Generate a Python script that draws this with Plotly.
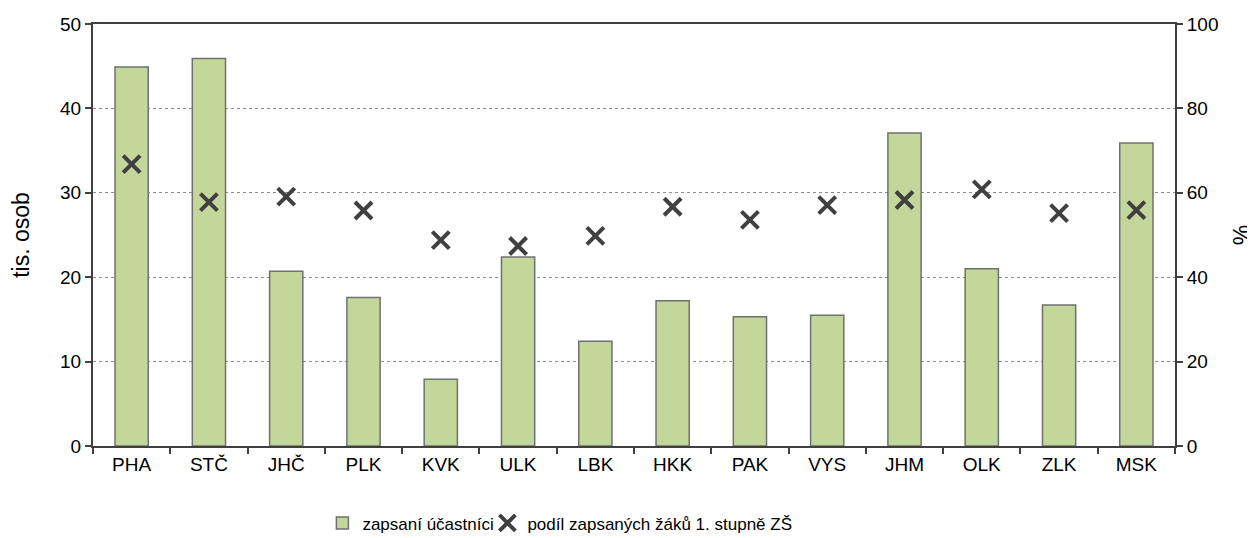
import plotly.graph_objects as go

regions = ["PHA", "STČ", "JHČ", "PLK", "KVK", "ULK", "LBK", "HKK", "PAK", "VYS", "JHM", "OLK", "ZLK", "MSK"]
enrolled = [44.9, 45.9, 20.7, 17.6, 7.9, 22.4, 12.4, 17.2, 15.3, 15.5, 37.1, 21.0, 16.7, 35.9]
share = [66.8, 57.8, 59.1, 55.8, 48.8, 47.4, 49.8, 56.7, 53.6, 57.1, 58.3, 60.8, 55.2, 55.9]

FONT = "Liberation Sans, Arial, sans-serif"
AX = "#404040"

fig = go.Figure()
fig.add_trace(go.Bar(
    x=regions, y=enrolled, name="zapsaní účastníci",
    marker=dict(color="#c4d79b", line=dict(color="#707070", width=1.5)),
    yaxis="y", legendwidth=120,
))
fig.add_trace(go.Scatter(
    x=regions, y=share, name="podíl zapsaných žáků 1. stupně ZŠ",
    mode="markers",
    marker=dict(symbol="x-thin", size=17, color=AX, line=dict(color=AX, width=4)),
    yaxis="y2",
))

# the page body has an 8 px margin, so the figure is sized/offset to compensate
fig.update_layout(
    width=1247, height=530,
    margin=dict(l=85, r=80, t=16, b=92, autoexpand=False),
    paper_bgcolor="white", plot_bgcolor="white",
    font=dict(family=FONT, size=19, color="black"),
    bargap=0.57,
    showlegend=True,
    legend=dict(orientation="h", x=0.212, xanchor="left", y=-0.226, yanchor="bottom",
                font=dict(size=17), itemwidth=30, tracegroupgap=0,
                bgcolor="rgba(0,0,0,0)"),
    xaxis=dict(
        range=[-0.5, 13.5], automargin=False,
        showline=True, linecolor=AX, linewidth=2, mirror=True,
        ticks="outside", tickson="boundaries", ticklen=6, tickcolor=AX, tickwidth=2,
        showgrid=False,
    ),
    yaxis=dict(
        range=[0, 50], dtick=10, automargin=False,
        title=dict(text="tis. osob", standoff=26),
        showline=True, linecolor=AX, linewidth=2,
        ticks="outside", ticklen=6, tickcolor=AX, tickwidth=2,
        showgrid=True, gridcolor="#8c8c8c", griddash="dot", gridwidth=1,
        zeroline=False,
    ),
    yaxis2=dict(
        range=[0, 100], dtick=20, automargin=False,
        title=dict(text="%", standoff=18),
        overlaying="y", side="right",
        showline=True, linecolor=AX, linewidth=2,
        ticks="outside", ticklen=6, tickcolor=AX, tickwidth=2,
        showgrid=False, zeroline=False,
    ),
)

fig.write_html("out.html")
